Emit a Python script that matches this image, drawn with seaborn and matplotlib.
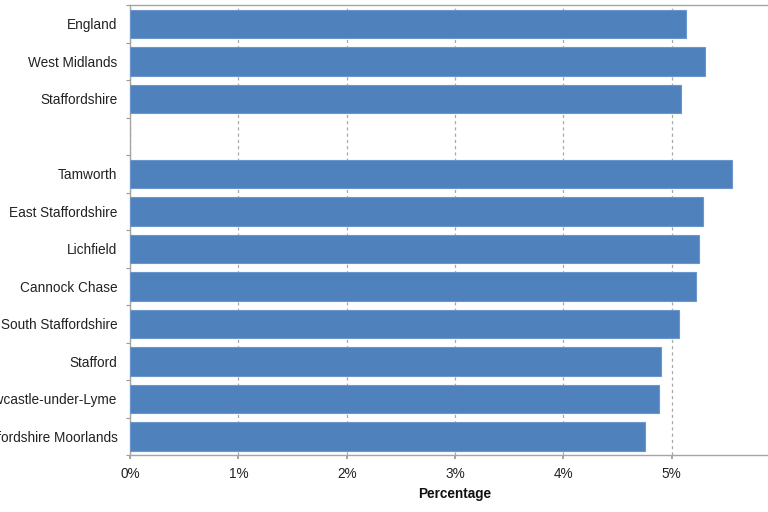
import matplotlib
matplotlib.use("Agg")
import matplotlib.pyplot as plt
import seaborn as sns
import pandas as pd
import numpy as np
from matplotlib.ticker import PercentFormatter, FixedLocator

areas = ["England", "West Midlands", "Staffordshire",
         "Tamworth", "East Staffordshire", "Lichfield", "Cannock Chase",
         "South Staffordshire", "Stafford", "Newcastle-under-Lyme",
         "Staffordshire Moorlands"]
values = [5.13, 5.31, 5.085, 5.56, 5.29, 5.25, 5.22, 5.07, 4.90, 4.88, 4.75]
order = ["England", "West Midlands", "Staffordshire", " ",
         "Tamworth", "East Staffordshire", "Lichfield", "Cannock Chase",
         "South Staffordshire", "Stafford", "Newcastle-under-Lyme",
         "Staffordshire Moorlands"]
x_ticks = [0, 1, 2, 3, 4, 5]

df = pd.DataFrame({"area": areas, "pct": values})

sns.set_theme(style="white")
plt.rcParams["font.family"] = ["Liberation Sans", "DejaVu Sans"]

fig = plt.figure(figsize=(7.68, 5.12), dpi=100)
ax = fig.add_axes([130 / 768, 1 - 455 / 512, 6 * 108.35 / 768, 450 / 512])

sns.barplot(data=df, x="pct", y="area", order=order, orient="h",
            color="#4f81bd", saturation=1, width=0.76,
            edgecolor="#6b97cc", linewidth=0.8, ax=ax, zorder=3)

ax.set_xlim(0, 6)
ax.set_ylim(len(order) - 0.5, -0.5)
ax.xaxis.set_major_locator(FixedLocator(x_ticks))
ax.xaxis.set_major_formatter(PercentFormatter(decimals=0))
ax.grid(axis="x", color="#a8a8a8", linestyle=(0, (2.5, 2.5)), linewidth=0.9, zorder=0)
ax.grid(axis="y", visible=False)
ax.set_axisbelow(True)

ax.yaxis.set_minor_locator(FixedLocator(np.arange(-0.5, len(order), 1.0)))
ax.tick_params(axis="y", which="major", length=0, pad=9, labelsize=9.8, labelcolor="#222222")
ax.tick_params(axis="y", which="minor", left=True, length=3, color="#999999", width=0.8)
ax.tick_params(axis="x", which="major", bottom=True, length=3, color="#999999",
               labelsize=9.8, labelcolor="#222222", pad=6)

for s in ["left", "bottom", "top", "right"]:
    ax.spines[s].set_color("#a6a6a6")
    ax.spines[s].set_linewidth(1.0)

ax.set_ylabel("")
ax.set_xlabel("Percentage", fontsize=9.8, fontweight="bold", color="#111111", labelpad=4)

fig.savefig("out.png", dpi=100)
